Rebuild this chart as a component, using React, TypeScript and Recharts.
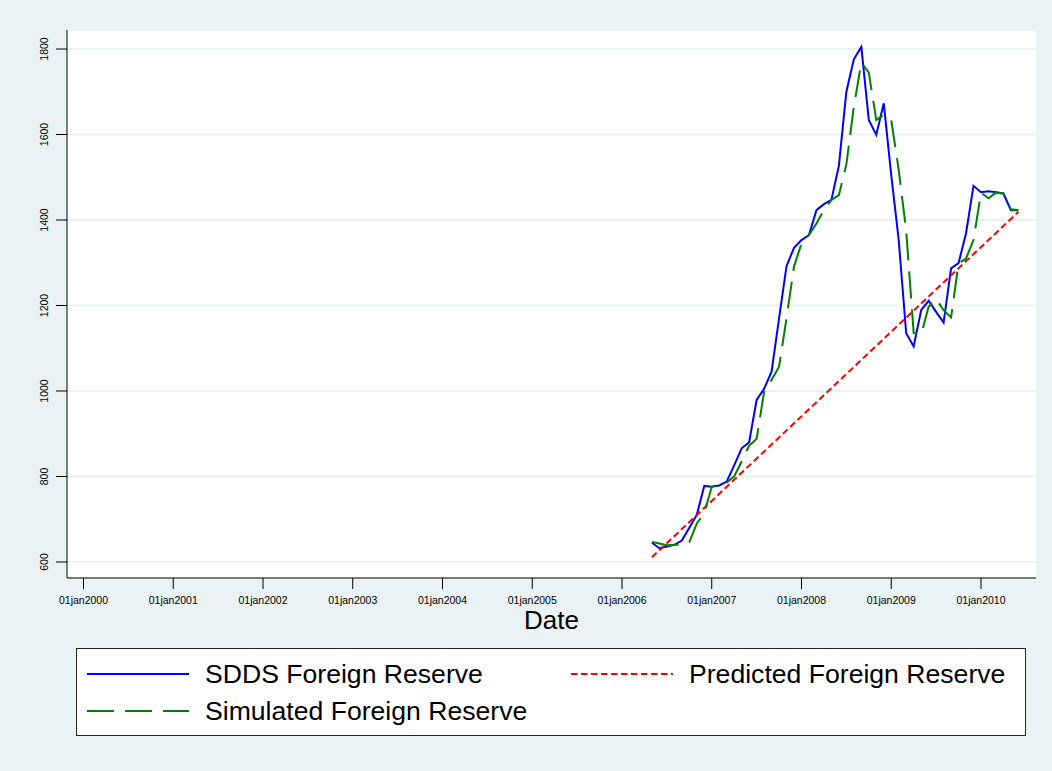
import React from 'react';
import { LineChart, Line, XAxis, YAxis, CartesianGrid, Label } from 'recharts';

// monthly observations, May 2006 .. Jun 2010
const MONTHS = [
  '2006-05', '2006-06', '2006-07', '2006-08', '2006-09', '2006-10', '2006-11', '2006-12',
  '2007-01', '2007-02', '2007-03', '2007-04', '2007-05', '2007-06', '2007-07', '2007-08',
  '2007-09', '2007-10', '2007-11', '2007-12',
  '2008-01', '2008-02', '2008-03', '2008-04', '2008-05', '2008-06', '2008-07', '2008-08',
  '2008-09', '2008-10', '2008-11', '2008-12',
  '2009-01', '2009-02', '2009-03', '2009-04', '2009-05', '2009-06', '2009-07', '2009-08',
  '2009-09', '2009-10', '2009-11', '2009-12',
  '2010-01', '2010-02', '2010-03', '2010-04', '2010-05', '2010-06',
];

const SDDS = [
  645, 632, 636, 640, 650, 680, 710, 778,
  776, 779, 788, 826, 866, 880, 979, 1005, 1045, 1170, 1292, 1335,
  1353, 1365, 1423, 1437, 1447, 1527, 1700, 1776, 1805, 1634, 1599, 1673,
  1505, 1353, 1135, 1104, 1189, 1211, 1185, 1160, 1287, 1299, 1369, 1480,
  1465, 1467, 1465, 1462, 1423, 1423,
];

const SIMULATED = [
  647, 643, 639, 640, 640, 646, 690, 714,
  776, 782, 786, 800, 835, 872, 888, 998, 1026, 1057, 1170, 1291,
  1345, 1365, 1392, 1423, 1447, 1458, 1530, 1665, 1768, 1745, 1634, 1646,
  1634, 1517, 1375, 1136, 1132, 1197, 1215, 1189, 1172, 1299, 1310, 1353,
  1464, 1451, 1464, 1462, 1425, 1423,
];

// linear trend, read at its two ends
const PREDICTED_MONTHS = ['2006-05', '2010-06'];
const PREDICTED = [611, 1419];

const YEAR_TICKS = [2000, 2001, 2002, 2003, 2004, 2005, 2006, 2007, 2008, 2009, 2010];
const Y_TICKS = [600, 800, 1000, 1200, 1400, 1600, 1800];

const BG = '#eaf2f3';

function toYear(m: string): number {
  const [y, mo] = m.split('-').map(Number);
  return y + (mo - 1) / 12;
}

const data = MONTHS.map((m, i) => ({ t: toYear(m), sdds: SDDS[i], sim: SIMULATED[i] }));
const predicted = PREDICTED_MONTHS.map((m, i) => ({ t: toYear(m), pred: PREDICTED[i] }));

const YTick = ({ x, y, payload }: any) => (
  <text
    transform={`translate(${x - 5.7}, ${y}) rotate(-90)`}
    textAnchor="middle"
    fontSize={10.5}
    fill="#000"
  >
    {payload.value}
  </text>
);

const DateLabel = (props: any) => {
  const vb = props.viewBox;
  return (
    <text x={vb.x + vb.width / 2} y={vb.y + 51} textAnchor="middle" fontSize={26} fill="#000">
      {props.value}
    </text>
  );
};

const legendItems = [
  { label: 'SDDS Foreign Reserve', color: '#0000ff', dash: undefined, left: 10, top: 25 },
  { label: 'Predicted Foreign Reserve', color: '#ff0000', dash: '6.5 3.5', left: 494, top: 25 },
  { label: 'Simulated Foreign Reserve', color: '#008000', dash: '27 11', left: 10, top: 62 },
];

function LegendBox() {
  return (
    <div
      style={{
        position: 'absolute',
        left: 76,
        top: 648,
        width: 950,
        height: 88,
        boxSizing: 'border-box',
        border: '1px solid #222',
        background: '#fff',
      }}
    >
      {legendItems.map(it => (
        <div key={it.label} style={{ position: 'absolute', left: it.left, top: it.top - 15, height: 30, display: 'flex', alignItems: 'center' }}>
          <svg width={103} height={30} style={{ display: 'block' }}>
            <line x1={0} y1={15} x2={102} y2={15} stroke={it.color} strokeWidth={2} strokeDasharray={it.dash} />
          </svg>
          <span style={{ marginLeft: 15, fontSize: 26.6, lineHeight: '30px', color: '#000', whiteSpace: 'nowrap' }}>{it.label}</span>
        </div>
      ))}
    </div>
  );
}

export default function App() {
  return (
    <div
      style={{
        position: 'absolute',
        left: 0,
        top: 0,
        width: 1052,
        height: 771,
        background: BG,
        fontFamily: '"Liberation Sans", Arial, sans-serif',
      }}
    >
      <LineChart width={1052} height={771} data={data} margin={{ top: 30, right: 16, left: 0, bottom: 133 }}>
        <CartesianGrid horizontal vertical={false} stroke={BG} strokeWidth={2} fill="#ffffff" />
        <XAxis
          type="number"
          dataKey="t"
          domain={[1999.816, 2010.613]}
          ticks={YEAR_TICKS}
          allowDataOverflow
          tickFormatter={(v: number) => `01jan${v}`}
          tick={{ fill: '#000', fontSize: 10.5 }}
          tickSize={11}
          tickMargin={8}
          height={60}
          axisLine={{ stroke: '#000', strokeWidth: 1 }}
          tickLine={{ stroke: '#000', strokeWidth: 1 }}
        >
          <Label value="Date" content={DateLabel} />
        </XAxis>
        <YAxis
          type="number"
          domain={[562.5, 1844.5]}
          ticks={Y_TICKS}
          allowDataOverflow
          width={67}
          tick={<YTick />}
          tickSize={11}
          tickMargin={2}
          axisLine={{ stroke: '#000', strokeWidth: 1 }}
          tickLine={{ stroke: '#000', strokeWidth: 1 }}
        />
        <Line
          type="linear"
          dataKey="sdds"
          stroke="#0000ff"
          strokeWidth={2}
          dot={false}
          isAnimationActive={false}
        />
        <Line
          type="linear"
          data={predicted}
          dataKey="pred"
          stroke="#ff0000"
          strokeWidth={2}
          strokeDasharray="6.5 3.5"
          dot={false}
          isAnimationActive={false}
        />
        <Line
          type="linear"
          dataKey="sim"
          stroke="#008000"
          strokeWidth={2}
          strokeDasharray="27 11"
          dot={false}
          isAnimationActive={false}
        />
      </LineChart>
      <LegendBox />
    </div>
  );
}
